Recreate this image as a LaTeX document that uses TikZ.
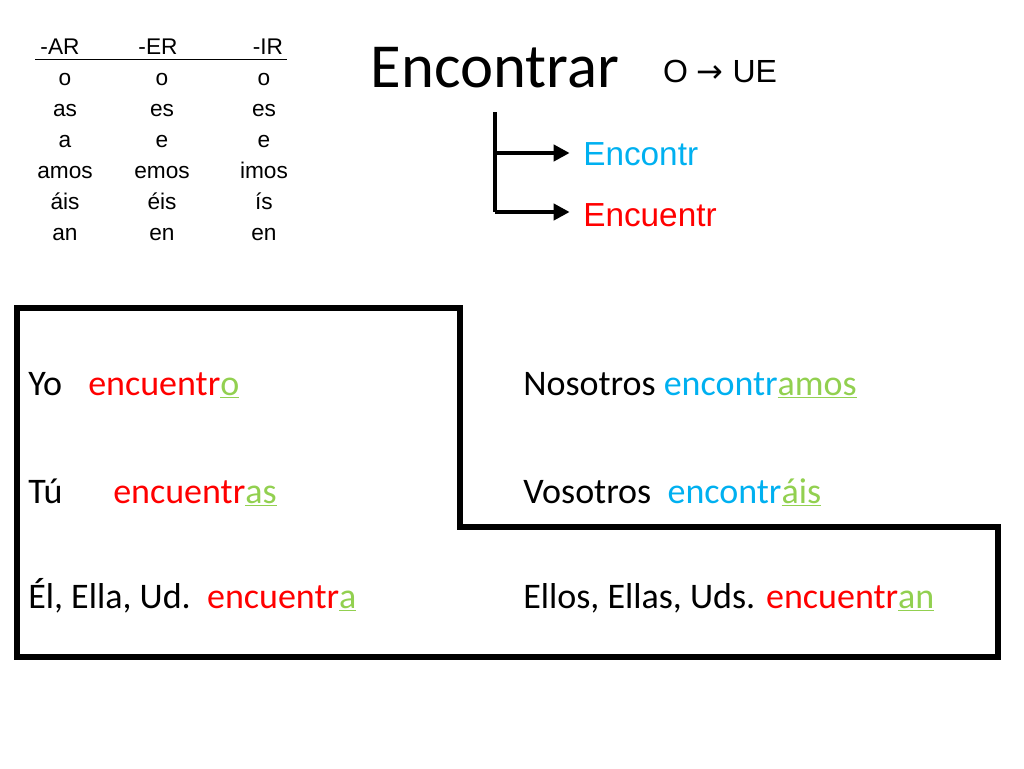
\documentclass[tikz,border=0pt]{standalone}
\usepackage{fontspec}
\setmainfont{Carlito}
\newfontfamily\arialfont{Liberation Sans}
\newfontfamily\arrowfont{DejaVu Sans}
\usetikzlibrary{positioning,arrows.meta}
\definecolor{stemblue}{RGB}{0,176,240}
\definecolor{stemred}{RGB}{255,0,0}
\definecolor{endgreen}{RGB}{146,208,80}
\tikzset{
  tab/.style={font=\arialfont\fontsize{17}{17}\selectfont, inner sep=0pt, anchor=base},
  conj/.style={font=\fontsize{27}{27}\selectfont, anchor=base west, inner sep=0pt},
  stem/.style={font=\arialfont\fontsize{25}{25}\selectfont, anchor=base west, inner sep=0pt},
}
\newcommand{\en}[1]{\textcolor{endgreen}{\underline{#1}}}
\begin{document}
\begin{tikzpicture}[x=0.75pt,y=-0.75pt]
\useasboundingbox (0,0) rectangle (1024,768);
% table of endings
\node[tab] (har) at (60,54) {-AR};
\node[tab] (her) at (158,54) {-ER};
\node[tab] (hir) at (268,54) {-IR};
\draw (35,59) -- (287,59);
\foreach \a/\e/\i [count=\r] in {o/o/o,as/es/es,a/e/e,amos/emos/imos,áis/éis/ís,an/en/en}{
  \node[tab] (ar\r) at (65,54+31*\r) {\a};
  \node[tab] (er\r) at (162,54+31*\r) {\e};
  \node[tab] (ir\r) at (264,54+31*\r) {\i};
}
% title
\node[font=\fontsize{47}{47}\selectfont, inner sep=0pt, anchor=base] (title) at (495,87) {Encontrar};
\node[font=\arialfont\fontsize{24}{24}\selectfont, inner sep=0pt, anchor=base] (change) at (720,82) {O {\arrowfont→} UE};
% stems
\node[stem, text=stemblue] (encontr) at (583,165) {Encontr};
\node[stem, text=stemred] (encuentr) at (583,226) {Encuentr};
\coordinate (top) at (495,112);
\coordinate (mid) at (495,153);
\coordinate (bot) at (495,212);
\draw[line width=3pt] (top) -- (bot);
\draw[line width=3pt, -{Stealth[length=12pt,width=12pt,inset=0pt]}, shorten >=10pt] (mid) -- (encontr.west |- mid);
\draw[line width=3pt, -{Stealth[length=12pt,width=12pt,inset=0pt]}, shorten >=10pt] (bot) -- (encuentr.west |- bot);
% outline
\draw[line width=4pt] (17,308) -- (460,308) -- (460,527) -- (998,527) -- (998,657) -- (17,657) -- cycle;
% conjugations
\node[conj] (yo) at (28,395) {Yo};
\node[conj, text=stemred] (yov) at (88,395) {encuentr\en{o}};
\node[conj] (tu) at (28,503) {Tú};
\node[conj, text=stemred] (tuv) at (113,503) {encuentr\en{as}};
\node[conj] (el) at (28,608) {Él, Ella, Ud.\ \ \textcolor{stemred}{encuentr\en{a}}};
\node[conj] (nos) at (523,395) {Nosotros \textcolor{stemblue}{encontr\en{amos}}};
\node[conj] (vos) at (523,503) {Vosotros\ \ \textcolor{stemblue}{encontr\en{áis}}};
\node[conj] (ellos) at (523,608) {Ellos, Ellas, Uds. \textcolor{stemred}{encuentr\en{an}}};
\end{tikzpicture}
\end{document}
